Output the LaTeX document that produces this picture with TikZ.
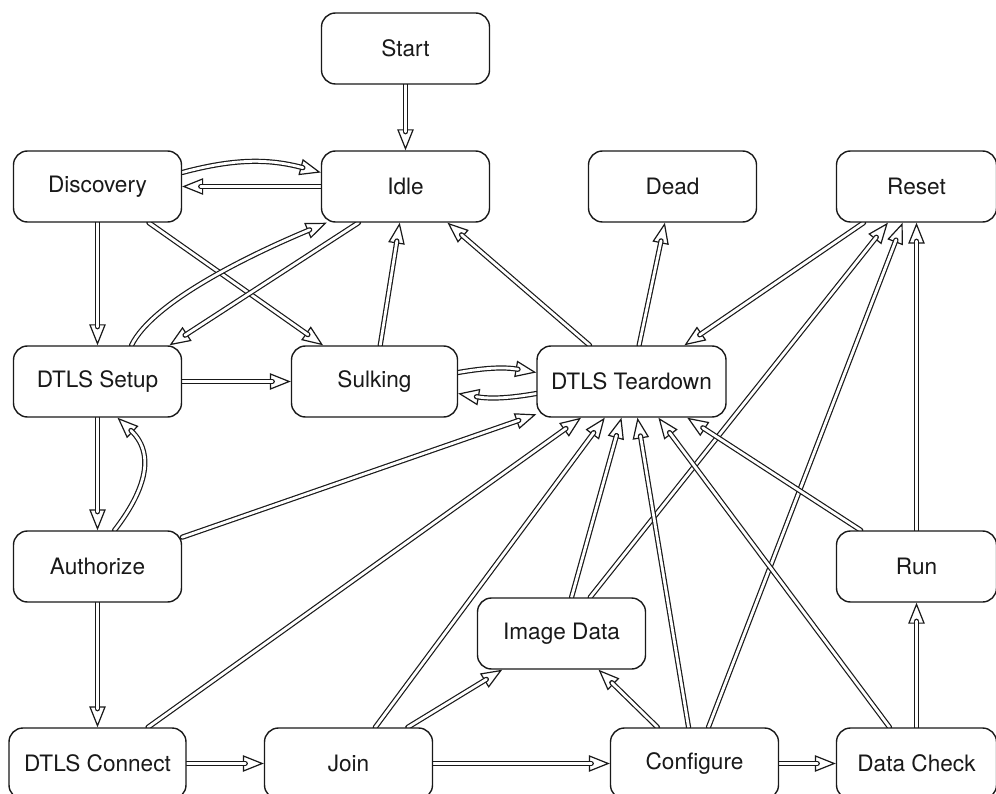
\documentclass[tikz,border=0pt]{standalone}
\usepackage{fontspec}
\setmainfont{TeX Gyre Heros}
\usetikzlibrary{arrows.meta}
\definecolor{ink}{rgb}{0.1,0.1,0.1}
\pgfdeclarelayer{bg}
\pgfdeclarelayer{edges}
\pgfsetlayers{bg,edges,main}
\begin{document}
\begin{tikzpicture}[x=1pt,y=-1pt,
  box/.style={draw=ink, line width=1.4pt, rounded corners=14pt, fill=white,
    minimum width=168pt, minimum height=71pt, inner sep=0pt,
    font=\fontsize{22.6}{26}\selectfont, text=ink},
  flow/.style={draw=ink, line width=1.2pt,
    -{Triangle[length=21pt, width=16.5pt, fill=white]},
    postaction={draw=ink, -, line width=1.2pt, double=white,
      double distance=2.8pt, line cap=round, shorten >=18.5pt}}]

% canvas
\begin{pgfonlayer}{bg}
  \fill[white] (0,0) rectangle (996,794);
\end{pgfonlayer}
\useasboundingbox (0,0) rectangle (996,794);

% states
\node[box] (start) at (405.5,48.5) {Start};
\node[box] (idle)  at (405.5,186.5) {Idle};
\node[box] (disc)  at (97.5,186.5) {Discovery};
\node[box] (dead)  at (672.5,186.5) {Dead};
\node[box, minimum width=160pt] (reset) at (916.5,186.5) {Reset};
\node[box] (setup) at (97.5,381.5) {DTLS Setup};
\node[box, minimum width=166pt] (sulk) at (374.5,381.5) {Sulking};
\node[box, minimum width=189pt] (td) at (631.5,381.5) {DTLS Teardown};
\node[box] (auth)  at (97.5,566.5) {Authorize};
\node[box, minimum width=160pt] (run) at (916.5,566.5) {Run};
\node[box] (img)   at (561.5,633.5) {Image Data};
\node[box, minimum width=177pt] (conn) at (97.5,763.5) {DTLS Connect};
\node[box] (join)  at (348.5,763.5) {Join};
\node[box] (conf)  at (694.5,763.5) {Configure};
\node[box, minimum width=160pt] (dchk) at (916.5,763.5) {Data Check};

% transitions
\begin{pgfonlayer}{edges}
\draw[flow] (start) -- (idle);
\draw[flow] ([yshift=14pt]disc.east) to[bend left=15] ([yshift=14pt]idle.west);
\draw[flow] (idle) -- (disc);
\draw[flow] (disc) -- (setup);
\draw[flow] (disc) -- (sulk);
\draw[flow] ([xshift=34pt]setup.north) .. controls (153,301) and (254,253) .. ([xshift=6pt]idle.south west);
\draw[flow] ([xshift=-47pt]idle.south) -- ([xshift=72pt]setup.north);
\draw[flow] (setup) -- (sulk);
\draw[flow] (sulk) -- (idle);
\draw[flow] ([yshift=9pt]sulk.east) to[bend left=10] ([yshift=9pt]td.west);
\draw[flow] ([yshift=-12pt]td.west) to[bend left=10] ([yshift=-12pt]sulk.east);
\draw[flow] (td) -- (idle);
\draw[flow] (td) -- (dead);
\draw[flow] (reset) -- (td);
\draw[flow] (setup) -- (auth);
\draw[flow] ([xshift=17pt]auth.north) .. controls (138,500) and (160,458) .. ([xshift=20pt]setup.south);
\draw[flow] (auth) -- (td);
\draw[flow] (auth) -- (conn);
\draw[flow] (conn) -- (td);
\draw[flow] (conn) -- (join);
\draw[flow] (join) -- (td);
\draw[flow] (join) -- (img);
\draw[flow] (join) -- (conf);
\draw[flow] (img) -- (td);
\draw[flow] (img) -- (reset);
\draw[flow] (conf) -- (img);
\draw[flow] (conf) -- (td);
\draw[flow] (conf) -- (reset);
\draw[flow] (conf) -- (dchk);
\draw[flow] (dchk) -- (td);
\draw[flow] (dchk) -- (run);
\draw[flow] (run) -- (td);
\draw[flow] (run) -- (reset);
\end{pgfonlayer}
\end{tikzpicture}
\end{document}
